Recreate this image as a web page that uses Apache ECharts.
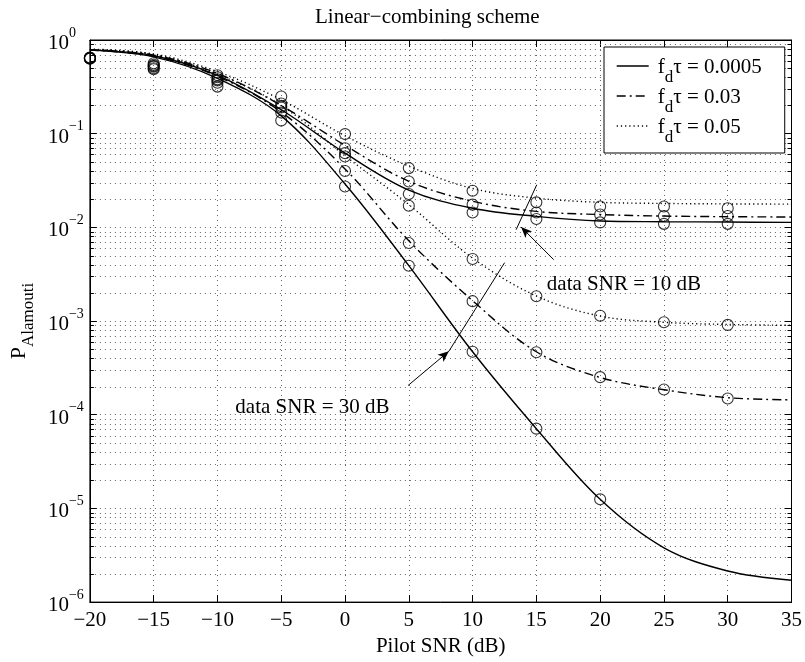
<!DOCTYPE html>
<html>
<head>
<meta charset="utf-8">
<script src="https://cdn.jsdelivr.net/npm/echarts@6/dist/echarts.min.js"></script>
<style>
  html, body { margin: 0; padding: 0; background: #fff; }
  #main { width: 805px; height: 662px; }
</style>
</head>
<body>
<div id="main"></div>
<script>
// pilot SNR samples (dB)
var curveSnr = [-20, -15, -10, -5, 0, 5, 10, 15, 20, 25, 30, 35];
var simSnr = [-20, -15, -10, -5, 0, 5, 10, 15, 20, 25, 30];

// analytic curves, data SNR = 10 dB
var curve10_0005 = [0.78, 0.68, 0.42, 0.18, 0.062, 0.025, 0.016, 0.0131, 0.0117, 0.0115, 0.0114, 0.0113];
var curve10_003 = [0.79, 0.69, 0.44, 0.20, 0.075, 0.031, 0.019, 0.0148, 0.0137, 0.0132, 0.013, 0.0129];
var curve10_005 = [0.80, 0.71, 0.46, 0.23, 0.095, 0.045, 0.026, 0.0205, 0.0185, 0.018, 0.0178, 0.0177];
// analytic curves, data SNR = 30 dB
var curve30_0005 = [0.78, 0.66, 0.39, 0.155, 0.029, 0.0039, 0.00047, 7.1e-5, 1.25e-5, 3.8e-6, 2.15e-6, 1.71e-6];
var curve30_003 = [0.78, 0.67, 0.41, 0.17, 0.042, 0.0072, 0.00165, 0.00047, 0.00025, 0.000185, 0.000152, 0.000144];
var curve30_005 = [0.79, 0.70, 0.43, 0.20, 0.058, 0.0175, 0.0047, 0.00185, 0.00113, 0.00097, 0.00092, 0.0009];

// simulation points (circles)
var sim10_0005 = [0.64, 0.53, 0.38, 0.198, 0.062, 0.0227, 0.0144, 0.0123, 0.0113, 0.0109, 0.0109];
var sim10_003 = [0.645, 0.545, 0.40, 0.21, 0.070, 0.0309, 0.0175, 0.0144, 0.0137, 0.0132, 0.0132];
var sim10_005 = [0.65, 0.565, 0.42, 0.249, 0.099, 0.0429, 0.0246, 0.0185, 0.0167, 0.0167, 0.016];
var sim30_0005 = [0.63, 0.487, 0.318, 0.138, 0.0273, 0.0039, 0.00047, 7.1e-5, 1.25e-5];
var sim30_003 = [0.635, 0.50, 0.35, 0.168, 0.040, 0.0068, 0.00163, 0.000465, 0.000252, 0.000186, 0.000149];
var sim30_005 = [0.64, 0.52, 0.37, 0.19, 0.057, 0.017, 0.0046, 0.00184, 0.00114, 0.00097, 0.00091];

var legendNames = ['0.0005', '0.03', '0.05'];

// minor log grid
var decades = [1e-6, 1e-5, 1e-4, 1e-3, 1e-2, 1e-1];
var minorMult = [2, 3, 4, 5, 6, 7, 8, 9];

// annotations (data coords)
var seg10 = [[15.03, 0.0285], [13.41, 0.00944]];
var arrow10 = [[16.36, 0.00452], [13.8, 0.0101]];
var seg30 = [[12.51, 0.0042], [8.14, 0.000476]];
var arrow30 = [[4.94, 0.000205], [8.14, 0.000476]];
var text10 = [15.82, 0.00245];
var text30 = [-8.6, 0.00012];

var FONT = 'Liberation Serif';
var dashDot = [9, 4, 2, 4];
var dotted = [1.2, 3];
var gridDots = [1, 4];

function pairs(xs, ys) {
  return ys.map(function (y, i) { return [xs[i], y]; });
}
function minus(n) {
  return n < 0 ? '\u2212' + (-n) : '' + n;
}

var minorVals = [];
decades.forEach(function (d) {
  minorMult.forEach(function (m) { minorVals.push([-20, m * d]); });
});

var chart = echarts.init(document.getElementById('main'));

function lineSeries(name, data, type) {
  return {
    name: name, type: 'line', data: pairs(curveSnr, data),
    symbol: 'none', smooth: 0.35, z: 3,
    itemStyle: { color: '#000' },
    lineStyle: { color: '#000', width: 1.4, type: type }
  };
}
function simSeries(data) {
  return {
    name: 'sim', type: 'scatter', data: pairs(simSnr, data),
    symbol: 'circle', symbolSize: 11, z: 4,
    itemStyle: { color: 'none', borderColor: '#000', borderWidth: 1.1 }
  };
}

var option = {
  animation: false,
  backgroundColor: '#fff',
  textStyle: { fontFamily: FONT, color: '#000' },
  title: {
    text: 'Linear\u2212combining scheme',
    left: 315, top: 7, padding: 0,
    textStyle: { fontFamily: FONT, fontSize: 21, fontWeight: 'normal', color: '#000' }
  },
  grid: { left: 78, top: 40, width: 714, height: 563, show: true, borderColor: '#000', borderWidth: 1, backgroundColor: 'transparent' },
  legend: {
    data: legendNames,
    orient: 'vertical',
    left: 604, top: 47,
    padding: [8, 23, 0, 12],
    itemGap: -8,
    itemWidth: 32, itemHeight: 14,
    backgroundColor: '#fff', borderColor: '#000', borderWidth: 1,
    itemStyle: { opacity: 0, borderWidth: 0 },
    lineStyle: { color: '#000', width: 1.4 },
    formatter: function (name) { return '{f|f}{d|d}{f|\u03c4 = ' + name + '}'; },
    textStyle: {
      fontFamily: FONT, color: '#000', padding: [0, 0, 0, 4],
      rich: {
        f: { fontFamily: FONT, fontSize: 21, lineHeight: 22, padding: [2, 0, 14, 0], verticalAlign: 'top' },
        d: { fontFamily: FONT, fontSize: 17, lineHeight: 17, padding: [14, 0, 7, 0], verticalAlign: 'top' }
      }
    }
  },
  xAxis: [{
    type: 'value', min: -20, max: 35, interval: 5,
    name: 'Pilot SNR (dB)', nameLocation: 'middle', nameGap: 32,
    nameTextStyle: { fontFamily: FONT, fontSize: 21, color: '#000' },
    axisLine: { show: true, onZero: false, lineStyle: { color: '#000' } },
    axisTick: { inside: true, length: 7, lineStyle: { color: '#000' } },
    axisLabel: { fontFamily: FONT, fontSize: 21, color: '#000', margin: 8, formatter: function (v) { return minus(v); } },
    splitLine: { show: true, lineStyle: { color: '#666', type: gridDots } }
  }, {
    type: 'value', min: -20, max: 35, interval: 5, position: 'top',
    axisLine: { show: true, onZero: false, lineStyle: { color: '#000' } },
    axisTick: { inside: true, length: 7, lineStyle: { color: '#000' } },
    axisLabel: { show: false }, splitLine: { show: false }
  }],
  yAxis: [{
    type: 'log', logBase: 10, min: 1e-6, max: 1, splitNumber: 6,
    name: '{p|P}{s|Alamouti}', nameLocation: 'middle', nameGap: 44, nameRotate: 90,
    nameTextStyle: {
      fontFamily: FONT, color: '#000',
      rich: {
        p: { fontFamily: FONT, fontSize: 22, verticalAlign: 'top', padding: [0, 0, 10, 0] },
        s: { fontFamily: FONT, fontSize: 17, verticalAlign: 'top', padding: [12, 0, 0, 0] }
      }
    },
    axisLine: { show: true, onZero: false, lineStyle: { color: '#000' } },
    axisTick: { inside: true, length: 7, lineStyle: { color: '#000' } },
    axisLabel: {
      align: 'left', margin: 42,
      formatter: function (v) {
        var e = Math.round(Math.log10(v));
        return '{b|10}{e|' + minus(e) + '}';
      },
      rich: {
        b: { fontFamily: FONT, fontSize: 21, color: '#000', verticalAlign: 'bottom' },
        e: { fontFamily: FONT, fontSize: 14, color: '#000', verticalAlign: 'bottom', padding: [0, 0, 14, 0] }
      }
    },
    splitLine: { show: true, lineStyle: { color: '#666', type: gridDots } }
  }, {
    type: 'log', logBase: 10, min: 1e-6, max: 1, splitNumber: 6, position: 'right',
    axisLine: { show: true, onZero: false, lineStyle: { color: '#000' } },
    axisTick: { inside: true, length: 7, lineStyle: { color: '#000' } },
    axisLabel: { show: false }, splitLine: { show: false }
  }],
  series: [
    {
      name: 'minor', type: 'custom', data: minorVals, z: 1, silent: true,
      encode: { x: 0, y: 1 },
      renderItem: function (params, api) {
        var v = api.value(1);
        var a = api.coord([-20, v]);
        var b = api.coord([35, v]);
        var y = Math.round(a[1]) + 0.5;
        return {
          type: 'group', children: [
            { type: 'line', shape: { x1: a[0], y1: y, x2: b[0], y2: y }, style: { stroke: '#666', lineWidth: 1, lineDash: gridDots } },
            { type: 'line', shape: { x1: a[0], y1: y, x2: a[0] + 4, y2: y }, style: { stroke: '#000', lineWidth: 1 } },
            { type: 'line', shape: { x1: b[0] - 4, y1: y, x2: b[0], y2: y }, style: { stroke: '#000', lineWidth: 1 } }
          ]
        };
      }
    },
    lineSeries('0.0005', curve10_0005, 'solid'),
    lineSeries('0.03', curve10_003, dashDot),
    lineSeries('0.05', curve10_005, dotted),
    lineSeries('0.0005', curve30_0005, 'solid'),
    lineSeries('0.03', curve30_003, dashDot),
    lineSeries('0.05', curve30_005, dotted),
    simSeries(sim10_0005), simSeries(sim10_003), simSeries(sim10_005),
    simSeries(sim30_0005), simSeries(sim30_003), simSeries(sim30_005),
    {
      name: 'annot', type: 'line', data: [], z: 5, silent: true,
      markLine: {
        silent: true, animation: false,
        label: { show: false },
        lineStyle: { color: '#000', width: 1, type: 'solid' },
        data: [
          [{ coord: seg10[0], symbol: 'none' }, { coord: seg10[1], symbol: 'none' }],
          [{ coord: arrow10[0], symbol: 'none' }, { coord: arrow10[1], symbol: 'arrow', symbolSize: [7, 11] }],
          [{ coord: seg30[0], symbol: 'none' }, { coord: seg30[1], symbol: 'none' }],
          [{ coord: arrow30[0], symbol: 'none' }, { coord: arrow30[1], symbol: 'arrow', symbolSize: [7, 11] }]
        ]
      }
    }
  ]
};

chart.setOption(option);

// text labels placed through the axis scales
var p10 = chart.convertToPixel({ gridIndex: 0 }, text10);
var p30 = chart.convertToPixel({ gridIndex: 0 }, text30);
chart.setOption({
  graphic: [
    { type: 'text', x: p10[0], y: p10[1], z: 10, style: { text: 'data SNR = 10 dB', font: '21px "Liberation Serif"', fill: '#000', textVerticalAlign: 'middle' } },
    { type: 'text', x: p30[0], y: p30[1], z: 10, style: { text: 'data SNR = 30 dB', font: '21px "Liberation Serif"', fill: '#000', textVerticalAlign: 'middle' } }
  ]
});
</script>
</body>
</html>
